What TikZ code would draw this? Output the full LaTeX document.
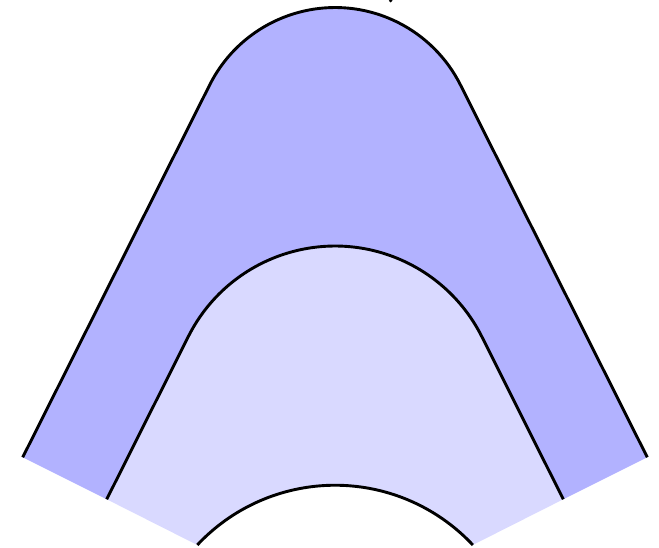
\documentclass[tikz,border=0pt]{standalone}
\usetikzlibrary{calc}
\begin{document}
\begin{tikzpicture}[x=1pt,y=1pt,
  edge/.style={draw=black,line width=2.9pt,line join=round},
  outerband/.style={fill=blue!30},
  innerband/.style={fill=blue!15}]
\useasboundingbox (0,0) rectangle (659,547);
% key points (y measured upward)
\coordinate (L0) at (22.7,89.7);
\coordinate (T0L) at (209.6,461.9);
\coordinate (R0) at (647.3,89.7);
\coordinate (T0R) at (460.4,461.9);
\coordinate (L1) at (106.7,47.7);
\coordinate (T1L) at (188.2,210.2);
\coordinate (R1) at (563.3,47.7);
\coordinate (T1R) at (481.8,210.2);
\coordinate (IL) at (197.3,2);
\coordinate (IR) at (472.7,2);
% fills
\path[outerband] (L0) -- (T0L) arc[start angle=153.43,end angle=26.57,radius=140.3] -- (R0) -- (R1) -- (T1R) arc[start angle=26.57,end angle=153.43,radius=164.2] -- (L1) -- cycle;
\path[innerband] (L1) -- (T1L) arc[start angle=153.43,end angle=26.57,radius=164.2] -- (R1) -- (IR) arc[start angle=43.1,end angle=136.9,radius=188.7] -- (IL) -- cycle;
% strokes
\draw[edge] (L0) -- (T0L) arc[start angle=153.43,end angle=26.57,radius=140.3] -- (R0);
\draw[edge] (L1) -- (T1L) arc[start angle=153.43,end angle=26.57,radius=164.2] -- (R1);
\draw[edge] (IL) arc[start angle=136.9,end angle=43.1,radius=188.7];
% small dot at the top edge
\fill (390.7,546.3) circle[radius=1.8];
\end{tikzpicture}
\end{document}
